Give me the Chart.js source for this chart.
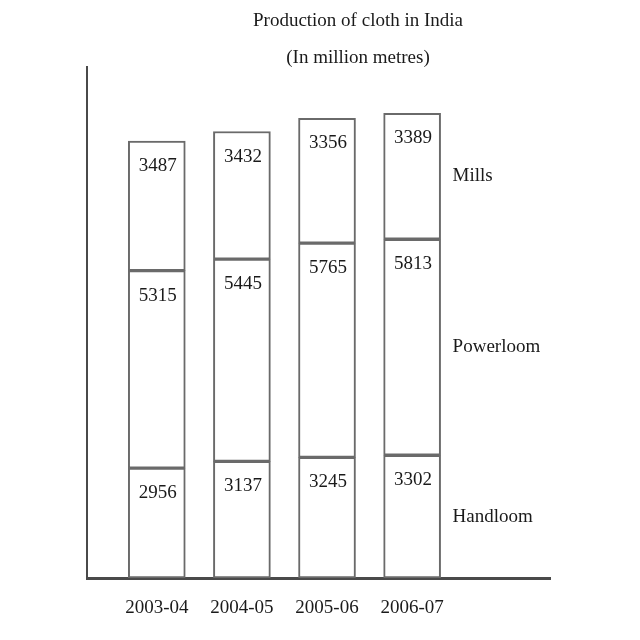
<!DOCTYPE html>
<html><head><meta charset="utf-8">
<script src="https://cdn.jsdelivr.net/npm/chart.js@4/dist/chart.umd.min.js"></script>
<style>html,body{margin:0;padding:0;background:#fff}#w{width:640px;height:640px}</style>
</head><body><div id="w"><canvas id="c"></canvas></div>
<script>
const categories = ['2003-04', '2004-05', '2005-06', '2006-07'];
const seriesNames = ['Handloom', 'Powerloom', 'Mills'];
const handloom = [2956, 3137, 3245, 3302];
const powerloom = [5315, 5445, 5765, 5813];
const mills = [3487, 3432, 3356, 3389];
const titleLines = ['Production of cloth in India', '(In million metres)'];

const FONT = '"Liberation Serif", "DejaVu Serif", serif';
const toPts = arr => arr.map((v, i) => ({x: i, y: v}));

const ds = (label, arr) => ({
  label, data: toPts(arr),
  backgroundColor: '#ffffff', borderColor: '#6a6a6a', borderWidth: 2,
  borderSkipped: false, barThickness: 57
});

const overlay = {
  id: 'overlay',
  afterDatasetsDraw(chart) {
    const ctx = chart.ctx;
    ctx.save();
    ctx.fillStyle = '#1a1a1a';
    ctx.textAlign = 'center';
    ctx.textBaseline = 'middle';
    ctx.font = '19px ' + FONT;
    chart.data.datasets.forEach((d, di) => {
      chart.getDatasetMeta(di).data.forEach((bar, i) => {
        const top = Math.min(bar.y, bar.base);
        ctx.fillText(String(d.data[i].y), bar.x + 1, top + 25);
      });
    });
    ctx.textAlign = 'left';
    chart.data.datasets.forEach((d, di) => {
      const meta = chart.getDatasetMeta(di);
      const bar = meta.data[meta.data.length - 1];
      ctx.fillText(d.label, bar.x + bar.width / 2 + 12, (bar.y + bar.base) / 2);
    });
    ctx.textAlign = 'center';
    ctx.fillText(titleLines[0], 358, 21);
    ctx.fillText(titleLines[1], 358, 58);
    ctx.restore();
  }
};

new Chart(document.getElementById('c'), {
  type: 'bar',
  data: { datasets: [ds(seriesNames[0], handloom), ds(seriesNames[1], powerloom), ds(seriesNames[2], mills)] },
  options: {
    responsive: true, maintainAspectRatio: false, animation: false,
    layout: { padding: { top: 67, right: 90, left: 0, bottom: 0 } },
    plugins: { legend: { display: false }, tooltip: { enabled: false }, title: { display: false } },
    scales: {
      x: {
        type: 'linear', stacked: true, min: -0.82, max: 4.62, offset: false,
        grid: { display: false, drawTicks: false },
        border: { display: true, color: '#4a4a4a', width: 3 },
        ticks: {
          stepSize: 1, includeBounds: false, autoSkip: false, maxRotation: 0, padding: 19,
          color: '#1a1a1a', font: { family: FONT, size: 19 },
          callback: v => (Number.isInteger(v) && v >= 0 && v < categories.length) ? categories[v] : ''
        },
        afterFit: s => { s.height = 62; }
      },
      y: {
        stacked: true, min: 0, max: 13750,
        grid: { display: false, drawTicks: false },
        border: { display: true, color: '#4a4a4a', width: 2 },
        ticks: { display: false },
        afterFit: s => { s.width = 87; }
      }
    }
  },
  plugins: [overlay]
});
</script></body></html>
